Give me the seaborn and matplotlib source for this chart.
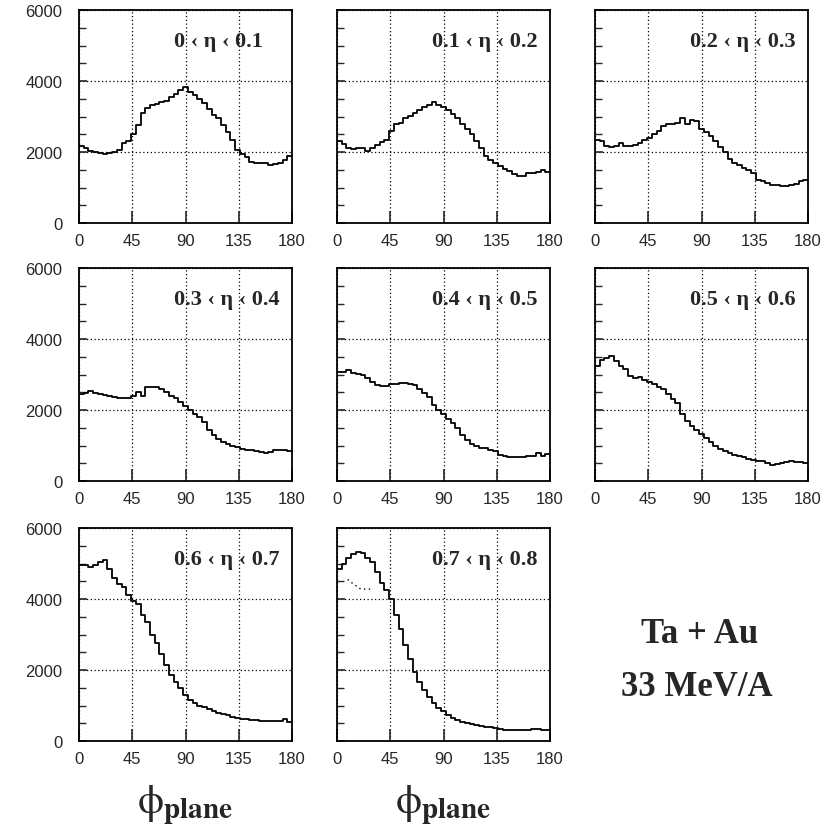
import numpy as np
import pandas as pd
import matplotlib
matplotlib.use("Agg")
import matplotlib.pyplot as plt
import seaborn as sns
from matplotlib.ticker import MultipleLocator, FixedLocator

# ---------------- data ----------------
phi_edges = list(range(0, 181, 4))          # 45 bins of 4 degrees
x_ticks = [0, 45, 90, 135, 180]
y_ticks = [0, 2000, 4000, 6000]

eta_labels = ["0 \u2039 \u03b7 \u2039 0.1", "0.1 \u2039 \u03b7 \u2039 0.2", "0.2 \u2039 \u03b7 \u2039 0.3",
              "0.3 \u2039 \u03b7 \u2039 0.4", "0.4 \u2039 \u03b7 \u2039 0.5", "0.5 \u2039 \u03b7 \u2039 0.6",
              "0.6 \u2039 \u03b7 \u2039 0.7", "0.7 \u2039 \u03b7 \u2039 0.8"]

counts_00_01 = [2180, 2100, 2030, 2000, 1960, 1950, 1960, 1990, 2050, 2250, 2300, 2500, 2750, 3100, 3250,
                3320, 3350, 3420, 3450, 3560, 3620, 3750, 3830, 3700, 3600, 3500, 3380, 3200, 3050, 2950,
                2750, 2550, 2350, 2050, 1950, 1850, 1720, 1700, 1690, 1680, 1620, 1650, 1700, 1780, 1900]
counts_01_02 = [2300, 2220, 2100, 2080, 2100, 2110, 2030, 2100, 2200, 2270, 2350, 2580, 2800, 2830, 2950,
                3020, 3100, 3180, 3280, 3320, 3400, 3320, 3260, 3180, 3080, 2950, 2800, 2650, 2500, 2300,
                2100, 1900, 1780, 1680, 1600, 1520, 1460, 1380, 1330, 1320, 1400, 1410, 1450, 1500, 1450]
counts_02_03 = [2350, 2300, 2180, 2150, 2160, 2260, 2170, 2160, 2200, 2260, 2330, 2400, 2500, 2580, 2720,
                2780, 2800, 2810, 2950, 2800, 2900, 2870, 2650, 2560, 2450, 2300, 2150, 2000, 1800, 1700,
                1630, 1560, 1500, 1400, 1220, 1180, 1140, 1080, 1060, 1030, 1050, 1080, 1110, 1170, 1200]
counts_03_04 = [2460, 2480, 2540, 2480, 2440, 2420, 2400, 2370, 2340, 2330, 2350, 2390, 2520, 2400, 2650,
                2650, 2650, 2600, 2500, 2400, 2330, 2220, 2100, 2000, 1880, 1790, 1650, 1450, 1300, 1180,
                1100, 1050, 1000, 950, 900, 880, 870, 850, 820, 800, 830, 860, 870, 860, 840]
counts_04_05 = [3060, 3080, 3130, 3050, 3020, 3000, 2900, 2800, 2700, 2680, 2680, 2720, 2740, 2750, 2750,
                2740, 2700, 2600, 2470, 2370, 2150, 2000, 1880, 1750, 1620, 1480, 1300, 1150, 1050, 980,
                940, 920, 880, 850, 740, 700, 690, 690, 690, 690, 700, 700, 780, 700, 750]
counts_05_06 = [3250, 3420, 3470, 3520, 3380, 3250, 3150, 2950, 2900, 2920, 2850, 2780, 2720, 2650, 2600,
                2460, 2300, 2200, 1880, 1700, 1550, 1450, 1320, 1200, 1100, 980, 900, 840, 780, 740,
                700, 680, 620, 590, 570, 550, 520, 440, 490, 520, 530, 550, 540, 530, 520]
counts_06_07 = [4950, 4960, 4900, 4950, 5050, 5110, 4850, 4600, 4430, 4350, 4100, 3950, 3870, 3550, 3350,
                3000, 2750, 2450, 2150, 1850, 1650, 1500, 1300, 1150, 1080, 1000, 950, 890, 850, 800,
                760, 720, 680, 650, 630, 610, 600, 580, 570, 560, 560, 560, 570, 610, 530]
counts_07_08 = [4850, 5000, 5150, 5280, 5320, 5300, 5150, 5030, 4750, 4450, 4250, 4000, 3550, 3150, 2700,
                2300, 1950, 1650, 1450, 1250, 1080, 920, 840, 720, 640, 580, 540, 500, 470, 440,
                420, 400, 390, 360, 330, 320, 320, 320, 320, 320, 320, 340, 350, 320, 320]

# dotted secondary curve in the last panel
dotted_phi = [9, 14, 20, 28]
dotted_counts = [4550, 4420, 4280, 4280]

all_counts = [counts_00_01, counts_01_02, counts_02_03, counts_03_04,
              counts_04_05, counts_05_06, counts_06_07, counts_07_08]

# ---------------- figure ----------------
sns.set_style("ticks")
plt.rcParams["font.family"] = ["Liberation Sans", "DejaVu Sans"]
plt.rcParams["mathtext.fontset"] = "stix"

W, H = 830, 837
fig = plt.figure(figsize=(W / 100, H / 100), dpi=100)
fig.patch.set_facecolor("white")

col_left = [79, 337, 595]
row_top = [11, 269, 529]
pw, ph = 213, 213

serif = ["Liberation Serif", "DejaVu Serif"]

for i, counts in enumerate(all_counts):
    r, c = divmod(i, 3)
    ax = fig.add_axes([col_left[c] / W, 1 - (row_top[r] + ph) / H, pw / W, ph / H])
    centers = [(phi_edges[k] + phi_edges[k + 1]) / 2 for k in range(len(counts))]
    df = pd.DataFrame({"phi": centers, "n": counts})
    sns.histplot(data=df, x="phi", weights="n", bins=phi_edges, element="step",
                 fill=False, color="black", linewidth=1.3, ax=ax)
    if i == 7:
        ddf = pd.DataFrame({"phi": dotted_phi, "n": dotted_counts})
        sns.lineplot(data=ddf, x="phi", y="n", color="black", linewidth=1.0,
                     linestyle=(0, (1, 2.5)), ax=ax)
    ax.set_xlim(0, 180)
    ax.set_ylim(0, 6000)
    ax.set_xlabel("")
    ax.set_ylabel("")
    ax.xaxis.set_major_locator(FixedLocator(x_ticks))
    ax.yaxis.set_major_locator(FixedLocator(y_ticks))
    ax.yaxis.set_minor_locator(MultipleLocator(500))
    ax.grid(True, which="major", linestyle=(0, (1, 2)), color="black", linewidth=0.9)
    ax.tick_params(axis="x", which="major", direction="in", length=9, width=1.2,
                   labelsize=12, pad=7)
    ax.tick_params(axis="y", which="major", direction="in", length=6, width=1.2,
                   labelsize=12, pad=12)
    ax.tick_params(axis="y", which="minor", direction="in", length=5, width=1.0)
    if c != 0:
        ax.tick_params(axis="y", which="major", labelleft=False)
    for s in ax.spines.values():
        s.set_linewidth(1.3)
        s.set_color("black")
    ax.text(0.445, 0.855, eta_labels[i], transform=ax.transAxes, ha="left", va="center",
            fontsize=16, fontweight="bold", family=serif)

fig.text(0.843, 0.2425, "Ta + Au", ha="center", va="center", fontsize=25,
         fontweight="bold", family=serif)
fig.text(0.840, 0.179, "33 MeV/A", ha="center", va="center", fontsize=25,
         fontweight="bold", family=serif)

for cx in [(col_left[0] + pw / 2) / W, (col_left[1] + pw / 2) / W]:
    fig.text(cx, 0.038, r"$\mathrm{\phi}_{\mathbf{plane}}$", ha="center", va="center", fontsize=30)

fig.savefig("out.png", dpi=100, facecolor="white")
